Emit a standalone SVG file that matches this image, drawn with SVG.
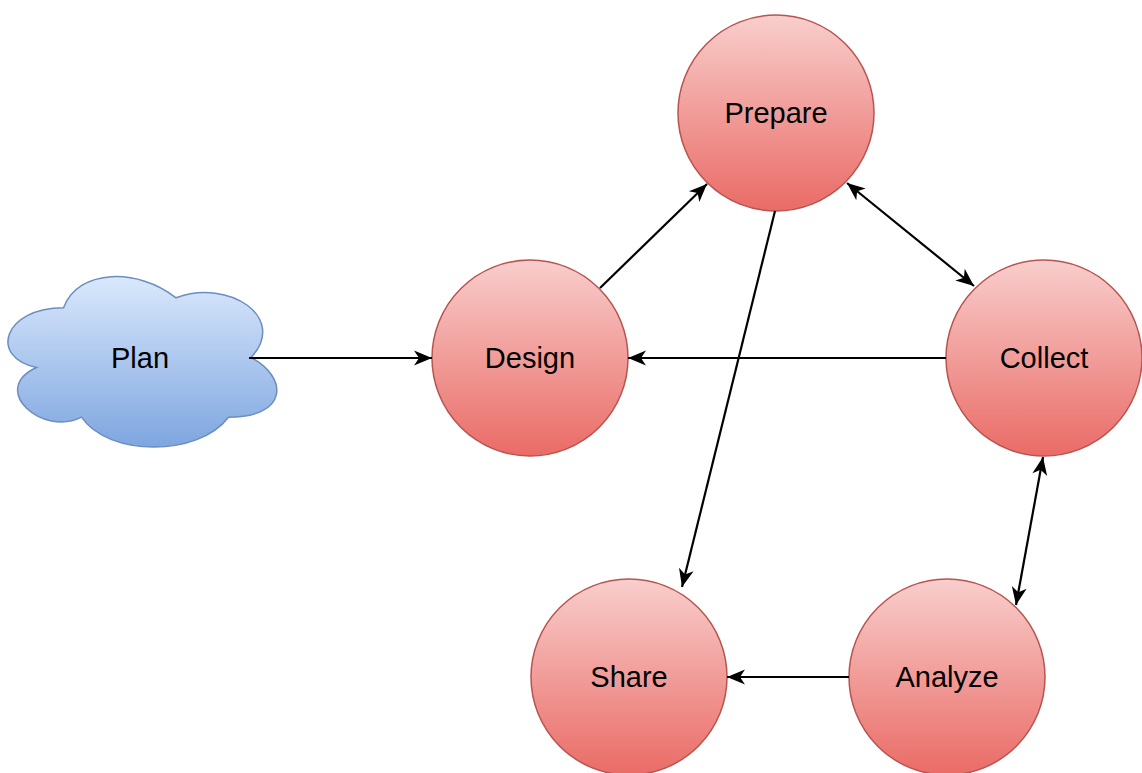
<svg xmlns="http://www.w3.org/2000/svg" width="1142" height="773" viewBox="0 0 1142 773">
  <defs>
    <linearGradient id="redFill" x1="0" y1="0" x2="0" y2="1">
      <stop offset="0" stop-color="#f8cecc"/>
      <stop offset="1" stop-color="#ea6b66"/>
    </linearGradient>
    <linearGradient id="blueFill" x1="0" y1="0" x2="0" y2="1">
      <stop offset="0" stop-color="#dae8fc"/>
      <stop offset="1" stop-color="#7ea6e0"/>
    </linearGradient>
    <marker id="arrow" viewBox="-20 -10 22 20" refX="0" refY="0" markerWidth="22" markerHeight="20" markerUnits="userSpaceOnUse" orient="auto-start-reverse">
      <path d="M0,0 L-18,-7.5 L-13,0 L-18,7.5 Z" fill="#000"/>
    </marker>
    <style>
      .node { fill: url(#redFill); stroke: #b85450; stroke-width: 1.5; }
      .cloud { fill: url(#blueFill); stroke: #6c8ebf; stroke-width: 1.5; }
      .label { font-family: "Liberation Sans", Arial, sans-serif; font-size: 29px; fill: #000; text-anchor: middle; dominant-baseline: central; }
      .edge { fill: none; stroke: #000; stroke-width: 2.2; }
    </style>
  </defs>
  <rect width="1142" height="773" fill="#fff"/>

  <g id="plan">
    <path class="cloud" d="M63.5,307.75 C3.5,307.75 -11.5,357.5 36.5,367.45 C-11.5,389.3 42.5,437.1 81.5,417.2 C108.5,457 198.5,457 228.5,417.2 C288.5,417.2 288.5,377.4 251,357.5 C288.5,317.7 228.5,277.9 176,297.8 C138.5,268 78.5,268 63.5,307.75 Z"/>
    <text class="label" x="140" y="358">Plan</text>
  </g>

  <g id="design">
    <circle class="node" cx="530" cy="358" r="98"/>
    <text class="label" x="530" y="358">Design</text>
  </g>

  <g id="prepare">
    <circle class="node" cx="776" cy="113" r="98"/>
    <text class="label" x="776" y="113">Prepare</text>
  </g>

  <g id="collect">
    <circle class="node" cx="1044" cy="358" r="98"/>
    <text class="label" x="1044" y="358">Collect</text>
  </g>

  <g id="share">
    <circle class="node" cx="629" cy="677" r="98"/>
    <text class="label" x="629" y="677">Share</text>
  </g>

  <g id="analyze">
    <circle class="node" cx="947" cy="677" r="98"/>
    <text class="label" x="947" y="677">Analyze</text>
  </g>

  <g id="connectors">
    <path class="edge" d="M249,358 L432,358" marker-end="url(#arrow)"/>
    <path class="edge" d="M600,288 L707,184" marker-end="url(#arrow)"/>
    <path class="edge" d="M847,183 L974,286" marker-start="url(#arrow)" marker-end="url(#arrow)"/>
    <path class="edge" d="M946,358 L628,358" marker-end="url(#arrow)"/>
    <path class="edge" d="M775,211 L682,587" marker-end="url(#arrow)"/>
    <path class="edge" d="M1043,457 L1016,605" marker-start="url(#arrow)" marker-end="url(#arrow)"/>
    <path class="edge" d="M849,677 L727,677" marker-end="url(#arrow)"/>
  </g>
</svg>
